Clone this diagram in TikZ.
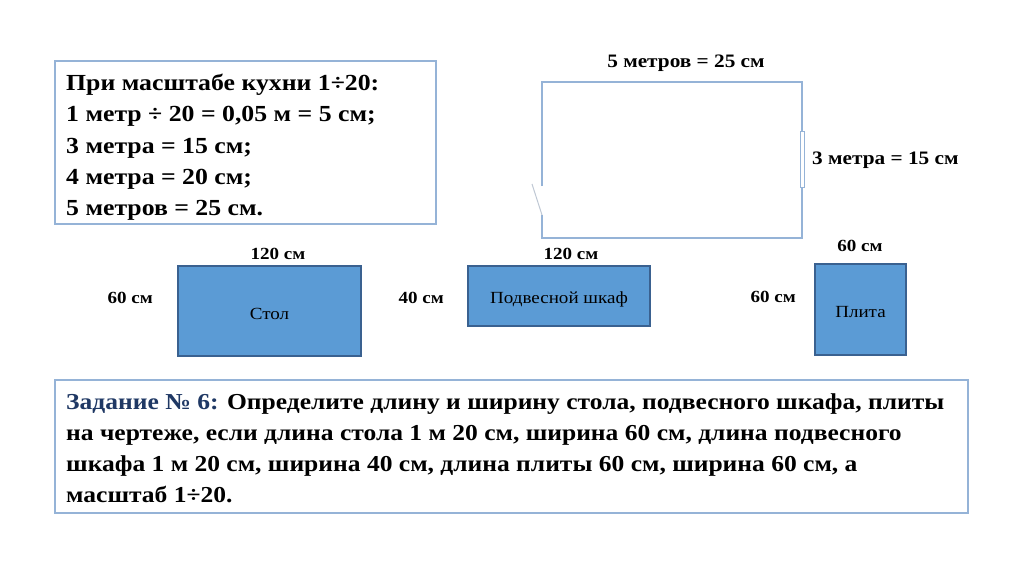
\documentclass[tikz,border=0pt]{standalone}
\usepackage{fontspec}
\setmainfont[FakeStretch=1.12]{Liberation Serif}
\definecolor{boxline}{HTML}{95B3D7}
\definecolor{furnfill}{HTML}{5B9BD5}
\definecolor{furnline}{HTML}{3A6190}
\definecolor{navy}{HTML}{1F3864}
\definecolor{doorgray}{HTML}{BFC8D4}
\tikzset{
  infobox/.style={draw=boxline, line width=1.5pt},
  bigtext/.style={font=\fontsize{23}{31}\selectfont\bfseries, inner sep=0pt, anchor=base west},
  tasktext/.style={font=\fontsize{22.8}{31}\selectfont\bfseries, inner sep=0pt, anchor=base west},
  dimlabel/.style={font=\fontsize{17}{20}\selectfont\bfseries, inner sep=0pt},
  roomlabel/.style={font=\fontsize{19}{21}\selectfont\bfseries, inner sep=0pt},
  furn/.style={draw=furnline, fill=furnfill, line width=1.2pt, inner sep=0pt},
  furntext/.style={font=\fontsize{17}{19}\selectfont, inner sep=0pt},
  wall/.style={draw=boxline, line width=2pt},
}
\begin{document}
\begin{tikzpicture}[x=1pt,y=-1pt]
\useasboundingbox[fill=white] (0,0) rectangle (1024,574);
% top-left info box
\draw[infobox] (55,61) rectangle (436,224);
\node[bigtext] (l1) at (66,90) {При масштабе кухни 1÷20:};
\node[bigtext] (l2) at (66,121) {1 метр ÷ 20 = 0,05 м = 5 см;};
\node[bigtext] (l3) at (66,153) {3 метра = 15 см;};
\node[bigtext] (l4) at (66,184) {4 метра = 20 см;};
\node[bigtext] (l5) at (66,215) {5 метров = 25 см.};
% room plan
\draw[wall] (542,186) -- (542,82) -- (802,82) -- (802,238) -- (542,238) -- (542,215);
\draw[draw=doorgray, line width=1pt] (532,184) -- (542,215);
\draw[draw=boxline, fill=white, line width=0.8pt] (800,131) rectangle (804,187);
\node[roomlabel] (roomw) at (686,63) {5 метров = 25 см};
\node[roomlabel, anchor=west] (roomh) at (812,160) {3 метра = 15 см};
% furniture
\node[furn, minimum width=183pt, minimum height=90pt] (stol) at (269.5,311) {};
\node[furntext] (stoltxt) at ([yshift=-3pt]stol.center) {Стол};
\node[dimlabel] (stolw) at (278,254) {120 см};
\node[dimlabel, anchor=east] (stolh) at (153,298) {60 см};
\node[furn, minimum width=182pt, minimum height=60pt] (shkaf) at (559,296) {};
\node[furntext] (shkaftxt) at ([yshift=-3pt]shkaf.center) {Подвесной шкаф};
\node[dimlabel] (shkafw) at (571,254) {120 см};
\node[dimlabel, anchor=east] (shkafh) at (444,298) {40 см};
\node[furn, minimum width=91pt, minimum height=91pt] (plita) at (860.5,309.5) {};
\node[furntext] (plitatxt) at ([yshift=-3pt]plita.center) {Плита};
\node[dimlabel] (plitaw) at (860,246) {60 см};
\node[dimlabel, anchor=east] (plitah) at (796,297) {60 см};
% task box
\draw[infobox] (55,380) rectangle (968,513);
\node[tasktext] (t1) at (66,409) {\textcolor{navy}{Задание № 6:} Определите длину и ширину стола, подвесного шкафа, плиты};
\node[tasktext] (t2) at (66,440) {на чертеже, если длина стола 1 м 20 см, ширина 60 см, длина подвесного};
\node[tasktext] (t3) at (66,471) {шкафа 1 м 20 см, ширина 40 см, длина плиты 60 см, ширина 60 см, а};
\node[tasktext] (t4) at (66,502) {масштаб 1÷20.};
\end{tikzpicture}
\end{document}
